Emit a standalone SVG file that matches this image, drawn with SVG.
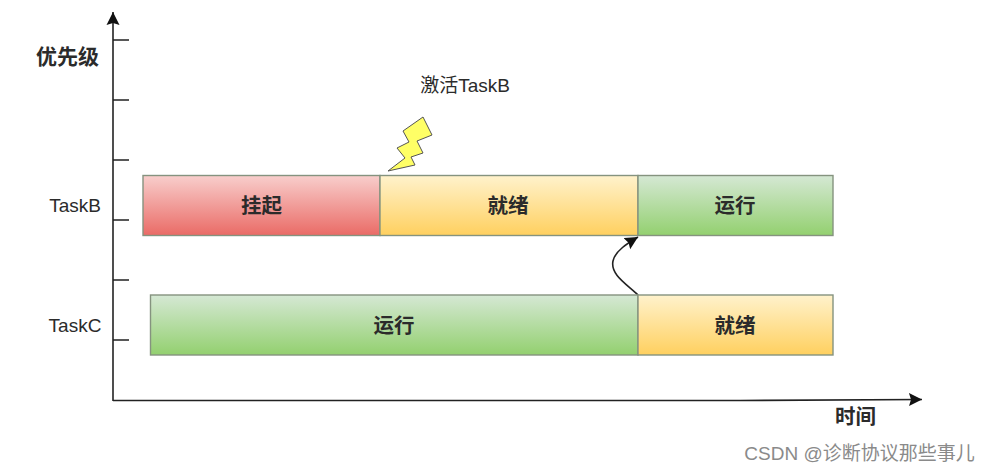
<svg xmlns="http://www.w3.org/2000/svg" width="991" height="473" viewBox="0 0 991 473">
<defs>
<linearGradient id="r" x1="0" y1="0" x2="0" y2="1"><stop offset="0" stop-color="#f8cecc"/><stop offset="1" stop-color="#ea6b66"/></linearGradient>
<linearGradient id="y" x1="0" y1="0" x2="0" y2="1"><stop offset="0" stop-color="#fff2cc"/><stop offset="1" stop-color="#ffd05f"/></linearGradient>
<linearGradient id="g" x1="0" y1="0" x2="0" y2="1"><stop offset="0" stop-color="#d5e8d4"/><stop offset="1" stop-color="#93d06f"/></linearGradient>
<marker id="ah" markerUnits="userSpaceOnUse" markerWidth="15" markerHeight="14" refX="13" refY="7" orient="auto"><path d="M0 0.500L13 7L0 13.500L2 7Z" fill="#111"/></marker>
</defs>
<style>
text{font-family:"Liberation Sans","Noto Sans CJK SC",sans-serif;fill:#2b2b2b;text-anchor:middle}
.b{font-size:20.500px;font-weight:bold}
.t{font-size:19px}
.l{fill:none;stroke:#222;stroke-width:1.6}
.bar{stroke:#85937f;stroke-width:1.4}
</style>
<g id="connectors">
<path class="l" d="M113 401V12" marker-end="url(#ah)"/>
<path class="l" d="M113 400.500H740L922 399.500" marker-end="url(#ah)"/>
<path class="l" d="M113 40H129M113 100H129M113 160H129M113 220H129M113 280H129M113 340H129"/>
<path class="l" d="M638 295C628 285 610 275 613 261C615 251 628 243 638 237" marker-end="url(#ah)"/>
</g>
<g id="bolt"><path d="M388 171L405 158L397 148L409 142L403 131L423 117L432 135L417 141L423 153L411 157L415 165Z" fill="#ffff66" stroke="#555" stroke-width="1"/></g>
<g id="b-suspended"><rect class="bar" x="143" y="175.500" width="237" height="60" fill="url(#r)"/><text class="b" x="261.500" y="212.500">挂起</text></g>
<g id="b-ready"><rect class="bar" x="380" y="175.500" width="258" height="60" fill="url(#y)"/><text class="b" x="508" y="212.500">就绪</text></g>
<g id="b-running"><rect class="bar" x="638" y="175.500" width="195" height="60" fill="url(#g)"/><text class="b" x="735" y="212.500">运行</text></g>
<g id="c-running"><rect class="bar" x="150.500" y="295" width="487.500" height="60" fill="url(#g)"/><text class="b" x="394" y="332.500">运行</text></g>
<g id="c-ready"><rect class="bar" x="638" y="295" width="195" height="60" fill="url(#y)"/><text class="b" x="735" y="332.500">就绪</text></g>
<g id="labels">
<text class="b" x="67.500" y="64" style="font-size:21px">优先级</text>
<text class="t" x="75" y="211.500">TaskB</text>
<text class="t" x="75" y="331.500">TaskC</text>
<text class="t" x="465" y="92">激活TaskB</text>
<text class="b" x="855.500" y="424">时间</text>
<text x="859.500" y="460" style="font-size:19px;fill:#8a8a8a">CSDN @诊断协议那些事儿</text>
</g>
</svg>
